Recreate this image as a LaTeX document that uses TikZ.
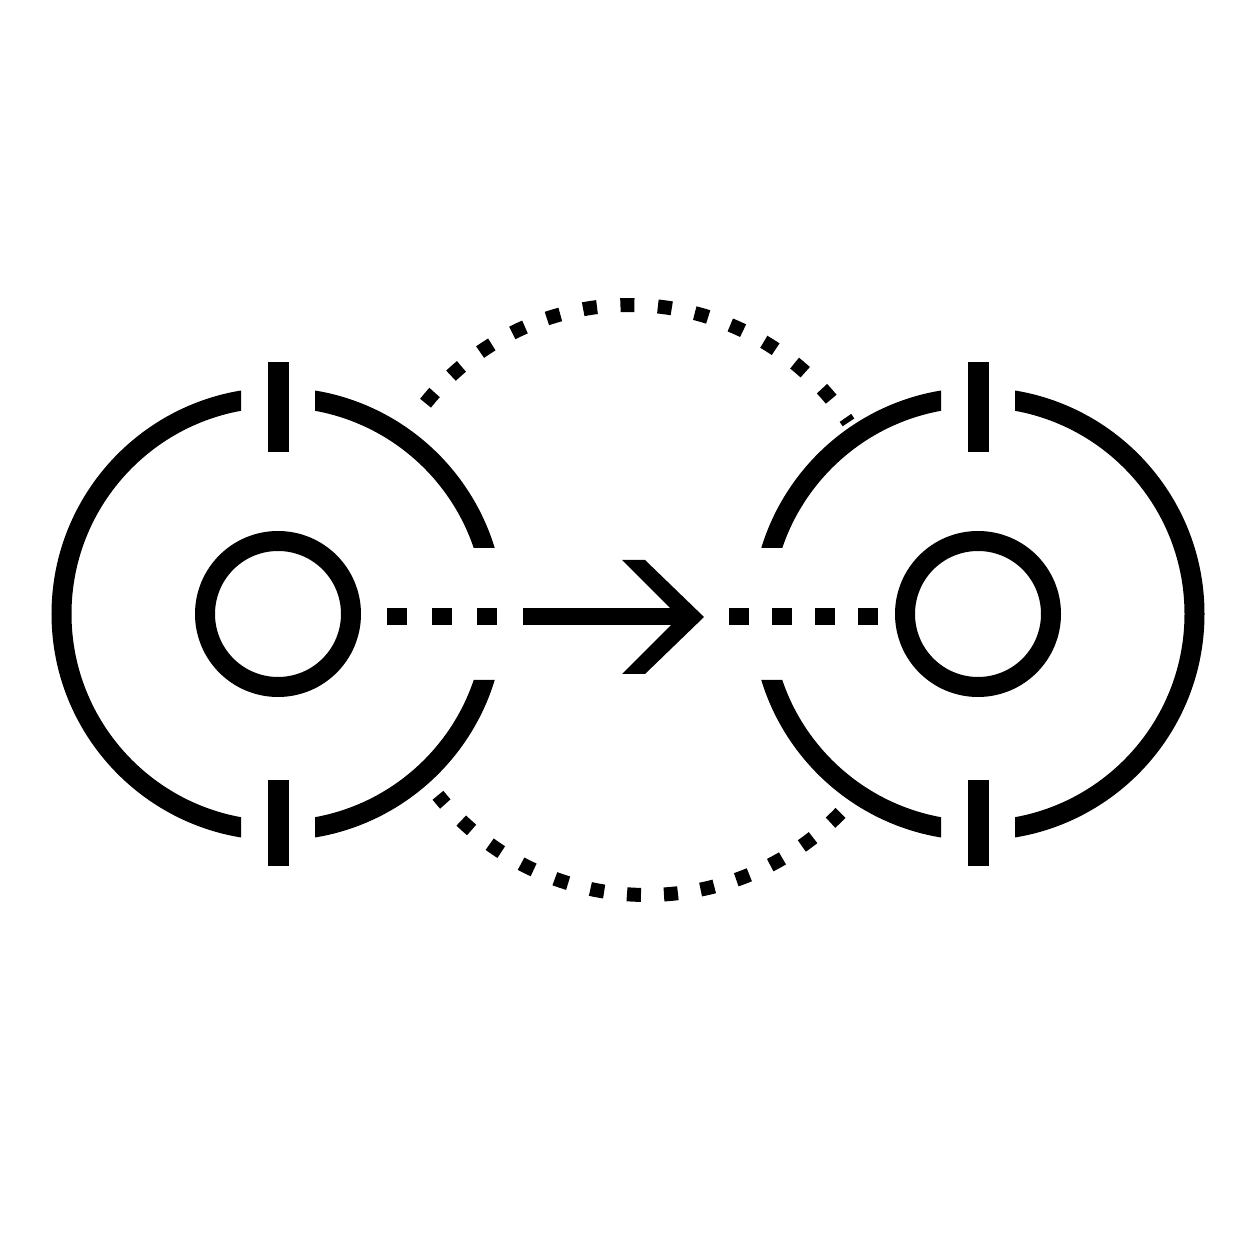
\documentclass[tikz,border=0pt]{standalone}
\usetikzlibrary{positioning}
\tikzstyle{hub}=[
	circle,
	draw,
	line width=20pt,
	minimum size=146pt,
	inner sep=0pt,
	outer sep=0pt
]
\tikzstyle{ring}=[line width=20pt]
\tikzstyle{tick}=[line width=21pt]
\tikzstyle{dashline}=[
	line width=17pt,
	dash pattern=on 20pt off 25pt
]
\tikzstyle{shaft}=[line width=17pt]
\tikzstyle{dotarc}=[
	line width=14pt,
	dash pattern=on 14pt off 23.5pt
]

\begin{document}
\begin{tikzpicture}[x=1pt,y=1pt]
\useasboundingbox (0,0) rectangle (1254,1254);
\node [hub] (lhub) at (278,640) {};
\node [hub] (rhub) [right=554pt of lhub] {};
% outer rings with their gaps
\begin{scope}[shift={(lhub.center)}]
\clip (-250,-250) -- (-250,250) -- (-37,250) -- (-37,150) -- (37,150) -- (37,250) -- (250,250) -- (250,66) -- (150,66) -- (150,-66) -- (250,-66) -- (250,-250) -- (37,-250) -- (37,-150) -- (-37,-150) -- (-37,-250) -- cycle;
\draw [ring] (0,0) circle (216.5);
\end{scope}
\begin{scope}[shift={(rhub.center)}, xscale=-1]
\clip (-250,-250) -- (-250,250) -- (-37,250) -- (-37,150) -- (37,150) -- (37,250) -- (250,250) -- (250,66) -- (150,66) -- (150,-66) -- (250,-66) -- (250,-250) -- (37,-250) -- (37,-150) -- (-37,-150) -- (-37,-250) -- cycle;
\draw [ring] (0,0) circle (216.5);
\end{scope}
% ticks
\foreach \h in {lhub,rhub} {
	\draw [tick] ([yshift=162pt]\h.center) -- ([yshift=252pt]\h.center);
	\draw [tick] ([yshift=-166pt]\h.center) -- ([yshift=-252pt]\h.center);
}
% connector with arrow
\coordinate (tail) at (523,637);
\coordinate (head) at (704,637);
\draw [dashline, shorten <=36pt, shorten >=25pt] (lhub.east |- tail) -- (tail);
\draw [shaft, shorten >=20pt] (tail) -- (head);
\fill (head) -- ++(-59,57) -- ++(-23,0) -- ++(57,-57) -- ++(-57,-57) -- ++(23,0) -- cycle;
\draw [dashline, dash pattern=on 20pt off 23pt, shorten <=27pt, shorten >=25pt] (rhub.west |- tail) -- (head);
% dotted arcs
\coordinate (topc) at (630,687);
\coordinate (botc) at (647,628);
\draw [dotarc] ([shift={(141.3:262)}]topc) arc [start angle=141.3, end angle=33.5, radius=262];
\draw [dotarc, dash pattern=on 14pt off 23pt] ([shift={(-44:269)}]botc) arc [start angle=-44, end angle=-141, radius=269];
\end{tikzpicture}
\end{document}
